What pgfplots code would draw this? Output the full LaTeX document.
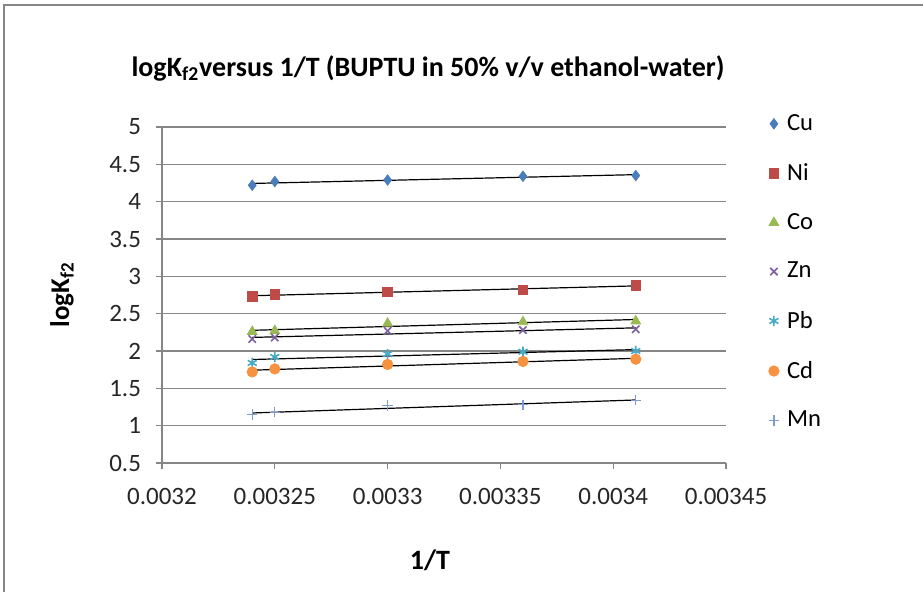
\documentclass[border=0pt]{standalone}
\usepackage{pgfplots}
\pgfplotsset{compat=1.18}
\usepackage{fontspec}
\setmainfont{Carlito}

\definecolor{cuC}{HTML}{4A7EBB}
\definecolor{niC}{HTML}{BE4B48}
\definecolor{coC}{HTML}{98B954}
\definecolor{znC}{HTML}{7D60A0}
\definecolor{pbC}{HTML}{46AAC5}
\definecolor{cdC}{HTML}{F69240}
\definecolor{mnC}{HTML}{7E9CD0}
\definecolor{axC}{HTML}{868686}

\begin{document}
\begin{tikzpicture}
\begin{axis}[
  name=ax,
  scale only axis,
  width=282pt, height=168pt,
  xmin=0.0032, xmax=0.00345,
  ymin=0.5, ymax=5,
  xtick={0.0032,0.00325,0.0033,0.00335,0.0034,0.00345},
  ytick={0.5,1,...,5},
  scaled x ticks=false,
  xticklabel style={/pgf/number format/fixed, /pgf/number format/precision=5, yshift=-6pt},
  yticklabel style={/pgf/number format/fixed, /pgf/number format/precision=1, xshift=-4pt},
  /pgf/number format/assume math mode=true,
  ticklabel style={font=\fontsize{12.5}{14}\selectfont, text=black!85},
  axis x line*=bottom, axis y line*=left,
  axis line style={axC, line width=0.6pt, -},
  tick style={axC, line width=0.6pt},
  tick align=outside,
  major tick length=3pt,
  ymajorgrids,
  grid style={axC, line width=0.6pt},
  xlabel={1/T},
  ylabel={logK\textsubscript{f2}},
  xlabel style={font=\fontsize{14}{16}\selectfont\bfseries, at={(rel axis cs:0.475,0)}, anchor=center, yshift=-48.5pt},
  ylabel style={font=\fontsize{13.5}{16}\selectfont\bfseries, at={(rel axis cs:0,0.5)}, anchor=center, yshift=50pt},
  legend style={draw=none, fill=none, at={(rel axis cs:1.075,1.045)}, anchor=north west,
    font=\fontsize{12.3}{14}\selectfont, row sep=13pt, column sep=3pt, inner sep=0pt,
    nodes={inner sep=1pt}},
  legend cell align=left,
  legend image code/.code={\draw plot coordinates {(0.15cm,0cm)};},
]
\addplot[only marks, mark=diamond*, mark size=2.6pt, color=cuC] coordinates {
  (0.00324,4.22) (0.00325,4.27) (0.0033,4.29) (0.00336,4.34) (0.00341,4.35)};
\addplot[only marks, mark=square*, mark size=2.4pt, color=niC] coordinates {
  (0.00324,2.73) (0.00325,2.76) (0.0033,2.79) (0.00336,2.82) (0.00341,2.88)};
\addplot[only marks, mark=triangle*, mark size=2.8pt, color=coC] coordinates {
  (0.00324,2.26) (0.00325,2.27) (0.0033,2.37) (0.00336,2.39) (0.00341,2.40)};
\addplot[only marks, mark=x, mark size=2.6pt, line width=0.8pt, color=znC] coordinates {
  (0.00324,2.16) (0.00325,2.18) (0.0033,2.27) (0.00336,2.28) (0.00341,2.29)};
\addplot[only marks, mark=asterisk, mark size=2.6pt, line width=0.8pt, color=pbC] coordinates {
  (0.00324,1.84) (0.00325,1.92) (0.0033,1.96) (0.00336,1.99) (0.00341,2.00)};
\addplot[only marks, mark=*, mark size=2.6pt, color=cdC] coordinates {
  (0.00324,1.72) (0.00325,1.76) (0.0033,1.82) (0.00336,1.86) (0.00341,1.89)};
\addplot[only marks, mark=+, mark size=2.6pt, line width=0.6pt, color=mnC] coordinates {
  (0.00324,1.15) (0.00325,1.18) (0.0033,1.27) (0.00336,1.28) (0.00341,1.34)};
\legend{Cu, Ni, Co, Zn, Pb, Cd, Mn}

% linear trend lines (least squares of the points above)
\addplot[forget plot, black, line width=0.6pt] coordinates {(0.00324,4.244) (0.00341,4.362)};
\addplot[forget plot, black, line width=0.6pt] coordinates {(0.00324,2.740) (0.00341,2.872)};
\addplot[forget plot, black, line width=0.6pt] coordinates {(0.00324,2.277) (0.00341,2.422)};
\addplot[forget plot, black, line width=0.6pt] coordinates {(0.00324,2.182) (0.00341,2.310)};
\addplot[forget plot, black, line width=0.6pt] coordinates {(0.00324,1.886) (0.00341,2.019)};
\addplot[forget plot, black, line width=0.6pt] coordinates {(0.00324,1.743) (0.00341,1.902)};
\addplot[forget plot, black, line width=0.6pt] coordinates {(0.00324,1.170) (0.00341,1.344)};
\end{axis}

\node[font=\fontsize{14}{16}\selectfont\bfseries, anchor=center]
  at ([xshift=133pt, yshift=29.5pt]ax.north west)
  {logK\textsubscript{f2}versus 1/T (BUPTU in 50\% v/v ethanol-water)};

% chart area frame
\draw[axC, line width=1pt]
  ([xshift=-78.75pt, yshift=-64.5pt]ax.south west) --
  ([xshift=-78.75pt, yshift=60.75pt]ax.north west) --
  ([xshift=98.5pt, yshift=60.75pt]ax.north east);

\pgfresetboundingbox
\path ([xshift=-81pt, yshift=63.5pt]ax.north west) rectangle ([xshift=98.5pt, yshift=-64.5pt]ax.south east);
\end{tikzpicture}
\end{document}
